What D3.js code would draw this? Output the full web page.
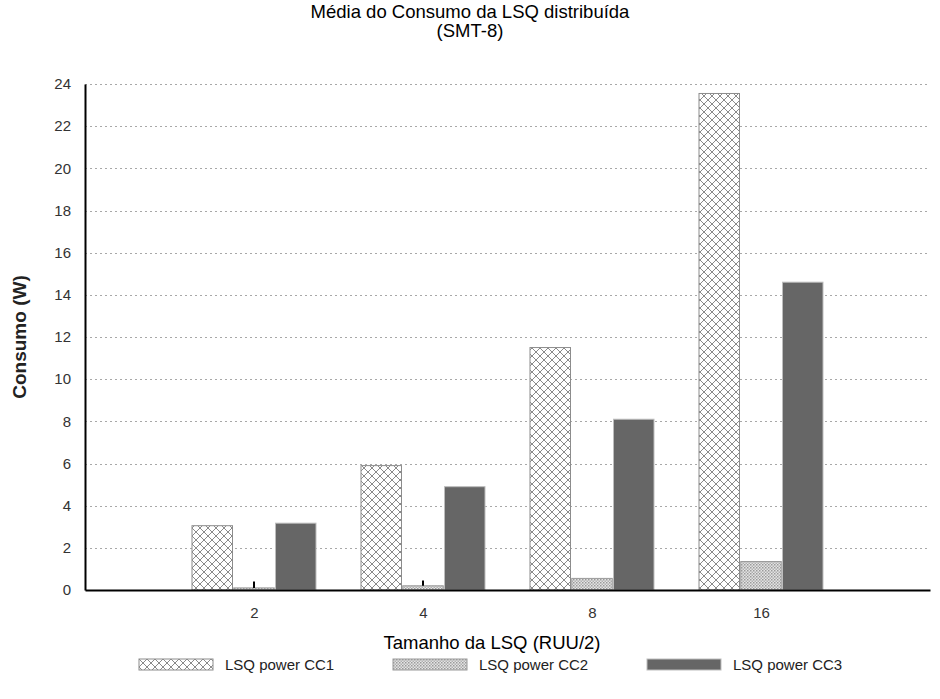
<!DOCTYPE html>
<html>
<head>
<meta charset="utf-8">
<script src="https://cdn.jsdelivr.net/npm/d3@7/dist/d3.min.js"></script>
<style>
  html, body { margin: 0; padding: 0; background: #fff; }
  svg { display: block; font-family: "Liberation Sans", Arial, sans-serif; }
</style>
</head>
<body>
<svg id="chart" width="940" height="699"></svg>
<script>
// LSQ size categories (RUU/2)
const categories = ["2", "4", "8", "16"];
const seriesNames = ["LSQ power CC1", "LSQ power CC2", "LSQ power CC3"];
// Average power (W) per LSQ size
const cc1 = [3.05, 5.9, 11.5, 23.55];
const cc2 = [0.1, 0.2, 0.55, 1.35];
const cc3 = [3.17, 4.9, 8.1, 14.6];
// small spread marks drawn on top of CC2
const cc2Err = [0.3, 0.25, 0, 0];
const yTicks = [0, 2, 4, 6, 8, 10, 12, 14, 16, 18, 20, 22, 24];

const svg = d3.select("#chart");
const margin = { left: 85, right: 10, top: 84, bottom: 109 };
const W = 940, H = 699;
const x0 = margin.left, x1 = W - margin.right;
const yBase = H - margin.bottom;

// defs: hatch patterns
const defs = svg.append("defs");
const p1 = defs.append("pattern").attr("id", "hatchCC1")
  .attr("patternUnits", "userSpaceOnUse").attr("width", 8).attr("height", 8);
p1.append("rect").attr("width", 8).attr("height", 8).attr("fill", "#fff");
p1.append("path").attr("d", "M0,0 L8,8 M8,0 L0,8 M-4,4 L4,12 M4,-4 L12,4 M4,-4 L-4,4 M12,4 L4,12")
  .attr("stroke", "#8a8a8a").attr("stroke-width", 1);

const p2 = defs.append("pattern").attr("id", "dotsCC2")
  .attr("patternUnits", "userSpaceOnUse").attr("width", 3).attr("height", 3);
p2.append("rect").attr("width", 3).attr("height", 3).attr("fill", "#e4e4e4");
p2.append("rect").attr("width", 1.5).attr("height", 1.5).attr("fill", "#9a9a9a");
p2.append("rect").attr("x", 1.5).attr("y", 1.5).attr("width", 1.5).attr("height", 1.5).attr("fill", "#b0b0b0");

const fills = ["url(#hatchCC1)", "url(#dotsCC2)", "#666666"];
const strokes = ["#8c8c8c", "#9a9a9a", "#bdbdbd"];

// scales: categories placed at 1..n on a 0..n+1 linear axis
const x = d3.scaleLinear().domain([0, categories.length + 1]).range([x0, x1]);
const y = d3.scaleLinear().domain([0, 24]).range([yBase, margin.top]);
const inner = d3.scaleBand().domain(d3.range(3)).range([-62, 62]).paddingInner(0.03);

// gridlines
svg.append("g").selectAll("line").data(yTicks.filter(d => d > 0)).join("line")
  .attr("x1", x0).attr("x2", x1)
  .attr("y1", d => Math.round(y(d)) + 0.5).attr("y2", d => Math.round(y(d)) + 0.5)
  .attr("stroke", "#a8a8a8").attr("stroke-width", 1).attr("stroke-dasharray", "2,3");

// bars
const series = [cc1, cc2, cc3];
const gBars = svg.append("g");
series.forEach((vals, s) => {
  gBars.append("g").selectAll("rect").data(vals).join("rect")
    .attr("x", (d, i) => x(i + 1) + inner(s))
    .attr("width", inner.bandwidth())
    .attr("y", d => y(d))
    .attr("height", d => yBase - y(d))
    .attr("fill", fills[s])
    .attr("stroke", strokes[s]).attr("stroke-width", 1);
});

// error ticks on CC2
gBars.append("g").selectAll("line").data(cc2Err).join("line")
  .filter(d => d > 0)
  .attr("x1", (d, i) => x(i + 1) + inner(1) + inner.bandwidth() / 2)
  .attr("x2", (d, i) => x(i + 1) + inner(1) + inner.bandwidth() / 2)
  .attr("y1", (d, i) => y(cc2[i]))
  .attr("y2", (d, i) => y(cc2[i] + d))
  .attr("stroke", "#000").attr("stroke-width", 2);

// axes
const yAxis = d3.axisLeft(y).tickValues(yTicks).tickSize(0).tickPadding(14);
const gy = svg.append("g").attr("transform", `translate(${x0},0)`).call(yAxis);
gy.select(".domain").attr("stroke", "#000").attr("stroke-width", 2);
gy.selectAll("text").attr("font-size", 15).attr("fill", "#333")
  .attr("font-family", "Liberation Sans, Arial, sans-serif");

const xAxis = d3.axisBottom(x).tickValues(d3.range(1, categories.length + 1))
  .tickFormat(d => categories[d - 1]).tickSize(0).tickPadding(17);
const gx = svg.append("g").attr("transform", `translate(0,${yBase})`).call(xAxis);
gx.select(".domain").attr("stroke", "#000").attr("stroke-width", 2);
gx.selectAll("text").attr("font-size", 15).attr("fill", "#333")
  .attr("font-family", "Liberation Sans, Arial, sans-serif");

// titles
svg.append("text").attr("x", 470).attr("y", 18).attr("text-anchor", "middle")
  .attr("font-size", 18.5).attr("fill", "#000").text("Média do Consumo da LSQ distribuída");
svg.append("text").attr("x", 470).attr("y", 37).attr("text-anchor", "middle")
  .attr("font-size", 18.5).attr("fill", "#000").text("(SMT-8)");

svg.append("text").attr("transform", `translate(26,${(yBase + margin.top) / 2}) rotate(-90)`)
  .attr("text-anchor", "middle").attr("font-size", 19).attr("font-weight", "bold")
  .attr("fill", "#222").text("Consumo (W)");
svg.append("text").attr("x", 492).attr("y", 649).attr("text-anchor", "middle")
  .attr("font-size", 18.5).attr("fill", "#000").text("Tamanho da LSQ (RUU/2)");

// legend
const legendX = [139, 393, 647];
const lg = svg.append("g").selectAll("g").data(seriesNames).join("g")
  .attr("transform", (d, i) => `translate(${legendX[i]},659)`);
lg.append("rect").attr("width", 74).attr("height", 11)
  .attr("fill", (d, i) => fills[i]).attr("stroke", (d, i) => strokes[i]);
lg.append("text").attr("x", 86).attr("y", 11).attr("font-size", 15).attr("fill", "#222")
  .text(d => d);
</script>
</body>
</html>
